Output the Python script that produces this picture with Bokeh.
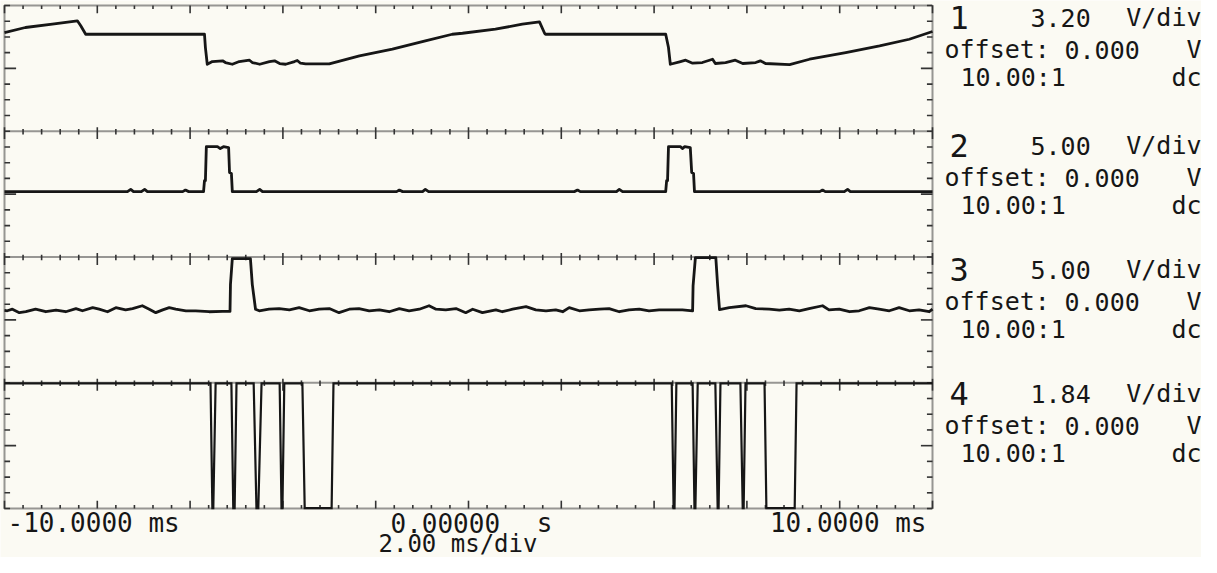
from bokeh.plotting import figure
from bokeh.models import Range1d
from bokeh.core.properties import value
from bokeh.embed import file_html
from bokeh.resources import INLINE
import numpy as np

# ---------------- data (time in ms, signal in volts) ----------------
ch1_t = [-10.00, -9.55, -8.97, -8.43, -8.36, -8.25, -5.69, -5.67, -5.63, -5.52, -5.30, -5.24,
         -5.09, -4.94, -4.72, -4.66, -4.50, -4.29, -4.18, -4.07, -3.94, -3.75, -3.69, -3.62,
         -3.51, -3.00, -2.35, -1.64, -0.93, -0.35, -0.13, 0.58, 1.16, 1.53, 1.64, 1.66, 4.25,
         4.31, 4.35, 4.55, 4.68, 4.83, 5.04, 5.26, 5.32, 5.54, 5.75, 5.91, 6.19, 6.29, 6.40,
         6.92, 7.35, 8.13, 8.86, 9.50, 10.00]
ch1_v = [7.30, 8.32, 8.99, 9.68, 8.72, 6.95, 6.95, 4.24, 0.84, 1.39, 1.54, 1.19, 0.84, 1.39,
         1.66, 1.19, 0.84, 1.39, 1.54, 0.99, 0.84, 1.39, 1.60, 1.05, 0.93, 0.93, 2.55, 3.90,
         5.61, 6.95, 7.15, 7.97, 8.99, 9.48, 7.15, 6.95, 6.95, 4.24, 0.84, 1.33, 1.66, 1.05,
         1.19, 1.86, 0.99, 1.19, 1.66, 0.99, 1.19, 1.54, 0.99, 0.78, 1.86, 3.23, 4.59, 5.93, 7.50]

ch2_t = [-10.00, -7.35, -7.28, -7.22, -7.05, -6.98, -6.92, -6.16, -6.10, -6.03, -5.71, -5.69,
         -5.67, -5.65, -5.41, -5.35, -5.28, -5.17, -5.15, -5.11, -5.09, -4.57, -4.50, -4.44,
         -1.55, -1.49, -1.42, -0.99, -0.93, -0.86, 2.28, 2.35, 2.41, 3.19, 3.25, 3.32, 4.25,
         4.27, 4.29, 4.31, 4.57, 4.61, 4.66, 4.78, 4.81, 4.85, 4.87, 7.57, 7.63, 7.69, 8.10,
         8.17, 8.23, 10.00]
ch2_v = [0.8, 0.8, 1.5, 0.8, 0.8, 1.5, 0.8, 0.8, 1.3, 0.8, 0.8, 4.3, 4.3, 15.1, 15.1, 14.5,
         15.1, 14.8, 6.9, 6.6, 0.8, 0.8, 1.5, 0.8, 0.8, 1.3, 0.8, 0.8, 1.5, 0.8, 0.8, 1.3, 0.8,
         0.8, 1.5, 0.8, 0.8, 4.3, 4.3, 15.1, 15.1, 14.5, 15.1, 14.8, 6.9, 6.6, 0.8, 0.8, 1.3,
         0.8, 0.8, 1.5, 0.8, 0.8]

ch3_t = [-10.00, -9.94, -9.83, -9.68, -9.54, -9.33, -9.11, -8.89, -8.68, -8.46, -8.32, -8.10,
         -7.96, -7.78, -7.60, -7.39, -7.24, -7.03, -6.88, -6.74, -6.59, -6.45, -6.31, -6.09,
         -5.88, -5.59, -5.30, -5.14, -5.13, -5.09, -4.70, -4.66, -4.59, -4.51, -4.30, -4.08,
         -3.86, -3.65, -3.43, -3.22, -3.00, -2.79, -2.57, -2.36, -2.14, -1.92, -1.71, -1.49,
         -1.28, -1.06, -0.85, -0.70, -0.49, -0.27, -0.06, 0.09, 0.30, 0.59, 0.73, 0.95, 1.24,
         1.45, 1.67, 1.88, 2.03, 2.17, 2.39, 2.60, 2.82, 3.03, 3.25, 3.46, 3.68, 3.89, 4.11,
         4.33, 4.61, 4.83, 4.84, 4.89, 5.33, 5.37, 5.41, 5.62, 5.98, 6.19, 6.48, 6.70, 6.91,
         7.13, 7.34, 7.63, 7.77, 7.99, 8.21, 8.42, 8.64, 8.85, 9.07, 9.28, 9.50, 9.71, 9.93, 10.00]
ch3_v = [3.0, 2.9, 3.4, 2.3, 2.6, 3.4, 2.6, 3.1, 2.6, 3.6, 2.9, 3.9, 3.4, 2.6, 3.9, 3.2, 3.6,
         4.5, 3.4, 2.3, 3.2, 3.9, 3.4, 2.9, 2.9, 2.6, 2.7, 2.7, 11.3, 19.5, 19.5, 11.3, 3.4, 2.9,
         3.4, 3.6, 3.2, 3.9, 2.9, 3.4, 3.6, 2.3, 3.4, 3.6, 2.9, 3.2, 2.6, 3.6, 2.9, 3.4, 4.5,
         3.4, 3.2, 3.6, 2.3, 3.4, 2.3, 3.2, 2.6, 3.4, 4.2, 3.2, 2.9, 3.2, 2.6, 3.9, 2.9, 3.2,
         3.4, 3.6, 2.6, 3.2, 3.4, 2.9, 3.2, 3.2, 3.2, 2.9, 10.8, 19.8, 19.8, 10.8, 3.3, 3.9,
         4.5, 3.6, 3.4, 3.1, 3.4, 2.9, 3.6, 4.5, 3.2, 3.4, 2.6, 2.9, 3.9, 3.4, 2.9, 3.9, 2.9,
         3.2, 2.6, 3.4]

# channel 4: pulse edges (ms) and logic levels (V)
ch4_fall_start = [-5.56, -5.11, -4.63, -4.07, -3.58, 4.38, 4.83, 5.32, 5.86, 6.38]
ch4_low_start = [-5.52, -5.07, -4.57, -4.03, -3.53, 4.42, 4.87, 5.37, 5.91, 6.42]
ch4_low_end = [-5.50, -5.04, -4.53, -4.01, -2.95, 4.44, 4.89, 5.39, 5.93, 7.03]
ch4_rise_end = [-5.45, -5.00, -4.46, -3.97, -2.91, 4.48, 4.94, 5.43, 5.97, 7.07]
ch4_high = 7.3
ch4_low = -7.3

channel_names = ["1", "2", "3", "4"]
volts_per_div = [3.20, 5.00, 5.00, 1.84]
scale_labels = ["3.20", "5.00", "5.00", "1.84"]
offset_labels = ["0.000", "0.000", "0.000", "0.000"]
probe_labels = ["10.00:1", "10.00:1", "10.00:1", "10.00:1"]
coupling_labels = ["dc", "dc", "dc", "dc"]
time_left_label = "-10.0000 ms"
time_center_label = "0.00000"
time_center_unit = "s"
time_right_label = "10.0000 ms"
timebase_label = "2.00 ms/div"

# ---------------- layout ----------------
W, H = 1201, 557
PX_MS = 46.4      # pixels per ms
PX_DIV = 15.72    # pixels per vertical division
FL, FT = 4, 5     # frame left / top in canvas px
INK = "#161616"
BG = "#fbfaf3"
MONO = value("DejaVu Sans Mono")

x_range = Range1d(-10 - FL / PX_MS, -10 + (W - FL) / PX_MS)
y_range = Range1d(32 + FT / PX_DIV - H / PX_DIV, 32 + FT / PX_DIV)

p = figure(width=W, height=H, x_range=x_range, y_range=y_range,
           x_axis_type=None, y_axis_type=None, output_backend="svg",
           toolbar_location=None, min_border=0)
p.grid.visible = False
p.outline_line_color = None
p.background_fill_color = BG
p.border_fill_color = BG


def ix(px):   # image x -> data
    return -10 + (px - 8 - FL) / PX_MS


def iy(py):   # image y -> data
    return 32 - (py - 8 - FT) / PX_DIV


centers = [28, 20, 12, 4]

# ---- graticule: dotted frame + strip separators ----
p.multi_line(xs=[[-10, 10], [-10, 10], [-10, 10], [-10, 10], [-10, 10], [-10, -10], [10, 10]],
             ys=[[32, 32], [24, 24], [16, 16], [8, 8], [0, 0], [0, 32], [0, 32]],
             line_color="#333333", line_width=2, line_dash="1 1")

tt = np.round(np.arange(-10, 10.001, 0.4), 3)
major = np.isclose(np.mod(tt + 10, 2.0), 0) | np.isclose(np.mod(tt + 10, 2.0), 2.0)
x0, y0, x1, y1 = [], [], [], []
for t, m in zip(tt, major):
    for yb in (24, 16, 8):
        x0.append(t); x1.append(t)
        y0.append(yb - (0.5 if m else 0.2)); y1.append(yb + (0.25 if m else 0.15))
    x0.append(t); x1.append(t); y0.append(32); y1.append(32 - (0.5 if m else 0.22))
    x0.append(t); x1.append(t); y0.append(0); y1.append(0 + (0.5 if m else 0.22))
for yy in range(0, 33):
    ln = 0.25 if yy % 8 == 4 else 0.12
    x0 += [-10, 10]; x1 += [-10 + ln, 10 - ln]; y0 += [yy, yy]; y1 += [yy, yy]
p.segment(x0=x0, y0=y0, x1=x1, y1=y1, line_color="#333333", line_width=1.6)

# ---- traces ----
traces = [(ch1_t, ch1_v), (ch2_t, ch2_v), (ch3_t, ch3_v)]
for i, (t, v) in enumerate(traces):
    y = [centers[i] + vv / volts_per_div[i] for vv in v]
    p.line(t, y, line_color=INK, line_width=2.8, line_join="round")

t4, v4 = [-10.0], [ch4_high]
for a, b, c, d in zip(ch4_fall_start, ch4_low_start, ch4_low_end, ch4_rise_end):
    t4 += [a, b, c, d]
    v4 += [ch4_high, ch4_low, ch4_low, ch4_high]
t4.append(10.0); v4.append(ch4_high)
p.line(t4, [centers[3] + vv / volts_per_div[3] for vv in v4],
       line_color=INK, line_width=2.2, line_join="miter")

# ---- channel info on the right ----
g0 = [25, 153, 277, 401]
for k in range(4):
    yl1, yl2, yl3 = iy(g0[k]), iy(g0[k] + 32), iy(g0[k] + 60)
    p.text(x=[ix(957)], y=[yl1], text=[channel_names[k]], text_font=MONO,
           text_font_size="32px", text_align="left", text_baseline="middle", text_color=INK)
    p.text(x=[ix(1038), ix(952), ix(1072), ix(968)], y=[yl1, yl2, yl2, yl3],
           text=[scale_labels[k], "offset:", offset_labels[k], probe_labels[k]],
           text_font=MONO, text_font_size="25px", text_align="left",
           text_baseline="middle", text_color=INK)
    p.text(x=[ix(1209), ix(1209), ix(1209)], y=[yl1, yl2, yl3],
           text=["V/div", "V", coupling_labels[k]],
           text_font=MONO, text_font_size="25px", text_align="right",
           text_baseline="middle", text_color=INK)

# ---- time labels ----
p.text(x=[ix(15), ix(398)], y=[iy(530), iy(530)],
       text=[time_left_label, time_center_label],
       text_font=MONO, text_font_size="26px", text_align="left",
       text_baseline="middle", text_color=INK)
p.text(x=[ix(560), ix(934)], y=[iy(530), iy(530)],
       text=[time_center_unit, time_right_label],
       text_font=MONO, text_font_size="26px", text_align="right",
       text_baseline="middle", text_color=INK)
p.text(x=[ix(386)], y=[iy(551)], text=[timebase_label],
       text_font=MONO, text_font_size="24px", text_align="left",
       text_baseline="middle", text_color=INK)

open("out.html", "w").write(file_html(p, INLINE))
